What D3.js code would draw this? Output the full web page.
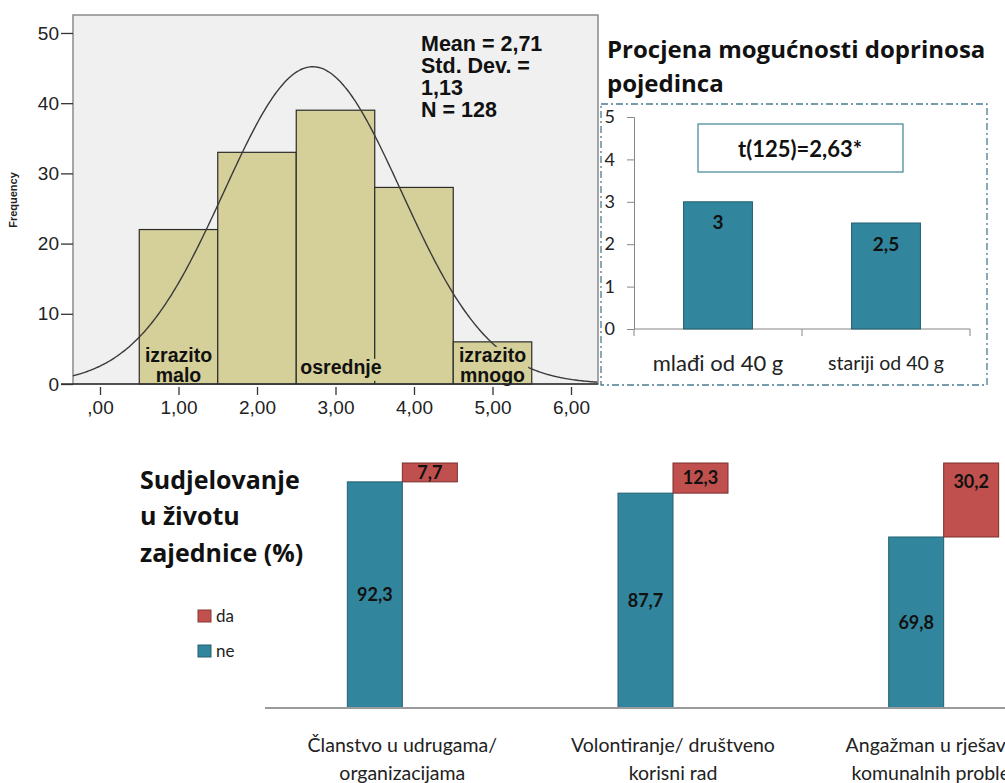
<!DOCTYPE html>
<html>
<head>
<meta charset="utf-8">
<script src="https://cdn.jsdelivr.net/npm/d3@7"></script>
<style>
  body { margin: 0; background: #fff; }
  svg { display: block; }
</style>
</head>
<body>
<svg id="chart"></svg>
<script>
// ---- histogram data (SPSS output) ----
const histBins = [1, 2, 3, 4, 5];
const histFreq = [22, 33, 39, 28, 6];
const histMean = 2.71, histSd = 1.13, histN = 128;
const freqTicks = [0, 10, 20, 30, 40, 50];
const scoreTicks = [0, 1, 2, 3, 4, 5, 6];
const statLines = ["Mean = 2,71", "Std. Dev. =", "1,13", "N = 128"];
const binNotes = [["izrazito", "malo"], ["osrednje"], ["izrazito", "mnogo"]];
const binNoteX = [1, 3.07, 5];

// ---- age group comparison ----
const ageGroups = ["mlađi od 40 g", "stariji od 40  g"];
const ageMeans = [3, 2.5];
const ageTicks = [0, 1, 2, 3, 4, 5];
const tTest = "t(125)=2,63*";

// ---- community participation (%) ----
const activities = [
    ["Članstvo u udrugama/", "organizacijama"],
    ["Volontiranje/ društveno", "korisni rad"],
    ["Angažman u rješavanju", "komunalnih problema"]
];
const ne = [92.3, 87.7, 69.8];
const da = [7.7, 12.3, 30.2];

const W = 1005, H = 783;
const teal = "#31859c", red = "#c0504d";
const sans = "'Liberation Sans', Arial, sans-serif";
const cal = "Lato, 'Open Sans', sans-serif";
const heavy = "'Open Sans', Lato, sans-serif";

const comma = d3.formatLocale({decimal: ",", thousands: ".", grouping: [3], currency: ["", ""]});
const f2 = comma.format(".2f");
const f1 = comma.format("~r");

const svg = d3.select("#chart").attr("width", W).attr("height", H);
svg.append("rect").attr("width", W).attr("height", H).attr("fill", "#fff");

// ================= histogram =================
const hx = d3.scaleLinear().domain([-0.344, 6.344]).range([73, 598]);
const hy = d3.scaleLinear().domain([0, 52.56]).range([384, 15]);

const hist = svg.append("g");
hist.append("rect")
    .attr("x", hx.range()[0]).attr("y", hy.range()[1])
    .attr("width", hx.range()[1] - hx.range()[0])
    .attr("height", hy.range()[0] - hy.range()[1])
    .attr("fill", "#f0f0f0").attr("stroke", "#8a8a8a").attr("stroke-width", 1.5);

hist.selectAll(".bin")
    .data(histBins)
    .join("rect")
    .attr("x", d => hx(d - 0.5))
    .attr("y", (d, i) => hy(histFreq[i]))
    .attr("width", d => hx(d + 0.5) - hx(d - 0.5))
    .attr("height", (d, i) => hy(0) - hy(histFreq[i]))
    .attr("fill", "#d5cf99")
    .attr("stroke", "#2b2b2b")
    .attr("stroke-width", 1.2);

// normal curve from mean / sd / N
const pdf = x => histN * Math.exp(-0.5 * ((x - histMean) / histSd) ** 2) / (histSd * Math.sqrt(2 * Math.PI));
const curveX = d3.range(hx.domain()[0], hx.domain()[1] + 0.001, 0.02);
hist.append("path")
    .datum(curveX)
    .attr("d", d3.line().x(d => hx(d)).y(d => hy(pdf(d))).curve(d3.curveBasis))
    .attr("fill", "none").attr("stroke", "#3a3a3a").attr("stroke-width", 1.4);

// labels with khaki background
binNotes.forEach((lines, i) => {
    const g = hist.append("g");
    const cx = hx(binNoteX[i]);
    const y0 = lines.length === 2 ? 355 : 367;
    const t = g.append("text")
        .attr("text-anchor", "middle")
        .style("font-family", sans).style("font-weight", "bold")
        .style("font-size", "19.5px").attr("fill", "#111");
    lines.forEach((l, j) => t.append("tspan").attr("x", cx).attr("y", y0 + j * 20).attr("dy", "0.35em").text(l));
    const bb = t.node().getBBox();
    g.insert("rect", "text")
        .attr("x", bb.x - 2).attr("y", bb.y + 3)
        .attr("width", bb.width + 4).attr("height", Math.min(bb.height, hy(0) - bb.y - 4))
        .attr("fill", "#d5cf99");
});

// y axis
const hyAxis = hist.append("g")
    .attr("transform", `translate(${hx.range()[0]},0)`)
    .call(d3.axisLeft(hy).tickValues(freqTicks).tickSize(12).tickPadding(2));
hyAxis.select(".domain").remove();
hyAxis.selectAll("line").attr("stroke", "#333").attr("stroke-width", 1.3);
hyAxis.selectAll("text").style("font-family", sans).style("font-size", "19px").attr("fill", "#222");

// x axis
hist.append("line")
    .attr("x1", hx.range()[0] - 12).attr("x2", hx.range()[1])
    .attr("y1", hy(0)).attr("y2", hy(0))
    .attr("stroke", "#333").attr("stroke-width", 1.3);
const hxAxis = hist.append("g")
    .attr("transform", `translate(0,${hy(0) + 3})`)
    .call(d3.axisBottom(hx).tickValues(scoreTicks).tickSize(8).tickPadding(6)
        .tickFormat(d => d === 0 ? ",00" : f2(d)));
hxAxis.select(".domain").remove();
hxAxis.selectAll("line").attr("stroke", "#333").attr("stroke-width", 1.3);
hxAxis.selectAll("text").style("font-family", sans).style("font-size", "19px").attr("fill", "#222");

hist.append("text")
    .attr("transform", `translate(17,200) rotate(-90)`)
    .attr("text-anchor", "middle")
    .style("font-family", sans).style("font-weight", "bold").style("font-size", "11px")
    .attr("fill", "#222")
    .text("Frequency");

hist.append("g").selectAll("text")
    .data(statLines)
    .join("text")
    .attr("x", 421).attr("y", (d, i) => 43 + i * 22).attr("dy", "0.35em")
    .style("font-family", sans).style("font-weight", "bold").style("font-size", "21.5px")
    .attr("fill", "#111")
    .text(d => d);

// ================= age group chart =================
const age = svg.append("g");
age.append("text")
    .style("font-family", heavy).style("font-weight", "bold").style("font-size", "24px")
    .attr("fill", "#111")
    .selectAll("tspan")
    .data(["Procjena mogućnosti doprinosa", "pojedinca"])
    .join("tspan")
    .attr("x", 607).attr("y", (d, i) => 50 + i * 34).attr("dy", "0.35em")
    .text(d => d);

age.append("rect")
    .attr("x", 601).attr("y", 104).attr("width", 386).attr("height", 281)
    .attr("fill", "none").attr("stroke", "#4a7c93").attr("stroke-width", 1.3)
    .attr("stroke-dasharray", "7,3,2,3");

const ay = d3.scaleLinear().domain([0, 5]).range([329, 117]);
const ax = d3.scaleBand().domain(ageGroups).range([634, 970]).paddingInner(0.59).paddingOuter(0.295);

const ayAxis = age.append("g")
    .attr("transform", "translate(634,0)")
    .call(d3.axisLeft(ay).tickValues(ageTicks).tickFormat(d3.format("d")).tickSize(7).tickPadding(12));
ayAxis.selectAll("line, .domain").attr("stroke", "#868686");
ayAxis.selectAll("text").style("font-family", cal).style("font-size", "18px").attr("fill", "#222");

age.append("line")
    .attr("x1", ax.range()[0]).attr("x2", ax.range()[1])
    .attr("y1", ay(0)).attr("y2", ay(0)).attr("stroke", "#868686");
age.selectAll(".tk")
    .data([ax.range()[0], (ax.range()[0] + ax.range()[1]) / 2, ax.range()[1]])
    .join("line")
    .attr("x1", d => d).attr("x2", d => d)
    .attr("y1", ay(0)).attr("y2", ay(0) + 7).attr("stroke", "#868686");

age.selectAll(".bar")
    .data(ageGroups)
    .join("rect")
    .attr("x", d => ax(d))
    .attr("y", (d, i) => ay(ageMeans[i]))
    .attr("width", ax.bandwidth())
    .attr("height", (d, i) => ay(0) - ay(ageMeans[i]))
    .attr("fill", teal).attr("stroke", "#24616f");

age.selectAll(".val")
    .data(ageGroups)
    .join("text")
    .attr("x", d => ax(d) + ax.bandwidth() / 2)
    .attr("y", (d, i) => ay(ageMeans[i]) + 21).attr("dy", "0.35em")
    .attr("text-anchor", "middle")
    .style("font-family", cal).style("font-weight", "bold").style("font-size", "19px")
    .attr("fill", "#111")
    .text((d, i) => f1(ageMeans[i]));

age.selectAll(".cat")
    .data(ageGroups)
    .join("text")
    .attr("x", d => ax(d) + ax.bandwidth() / 2)
    .attr("y", 363).attr("dy", "0.35em")
    .attr("text-anchor", "middle")
    .style("font-family", cal).style("font-size", (d, i) => i === 0 ? "22px" : "19.5px")
    .attr("fill", "#222")
    .text(d => d);

age.append("rect")
    .attr("x", 698).attr("y", 124).attr("width", 205).attr("height", 48)
    .attr("fill", "#fff").attr("stroke", "#4e8c9c").attr("stroke-width", 1.3);
age.append("text")
    .attr("x", 800).attr("y", 149).attr("dy", "0.35em")
    .attr("text-anchor", "middle")
    .style("font-family", cal).style("font-weight", "bold").style("font-size", "22px")
    .attr("fill", "#111")
    .text(tTest);

// ================= participation chart =================
const part = svg.append("g");
part.append("text")
    .style("font-family", heavy).style("font-weight", "bold").style("font-size", "25px")
    .attr("fill", "#111")
    .selectAll("tspan")
    .data(["Sudjelovanje", "u životu", "zajednice (%)"])
    .join("tspan")
    .attr("x", 140).attr("y", (d, i) => 480 + i * 36.5).attr("dy", "0.35em")
    .text(d => d);

const legend = part.append("g");
[["da", red, "#8c3836"], ["ne", teal, "#24616f"]].forEach(([name, c, s], i) => {
    legend.append("rect")
        .attr("x", 198).attr("y", 610 + i * 35).attr("width", 13).attr("height", 12)
        .attr("fill", c).attr("stroke", s);
    legend.append("text")
        .attr("x", 216).attr("y", 616 + i * 35).attr("dy", "0.35em")
        .style("font-family", cal).style("font-size", "17px").attr("fill", "#222")
        .text(name);
});

const py = d3.scaleLinear().domain([0, 100]).range([708, 463]);
const px = d3.scaleBand().domain(activities.map(d => d[0])).range([267, 1079]);
const barW = 55;
const mid = i => px(activities[i][0]) + px.bandwidth() / 2;

part.selectAll(".ne")
    .data(ne)
    .join("rect")
    .attr("x", (d, i) => mid(i) - barW)
    .attr("y", d => py(d))
    .attr("width", barW)
    .attr("height", d => py(0) - py(d))
    .attr("fill", teal).attr("stroke", "#24616f");

part.selectAll(".da")
    .data(da)
    .join("rect")
    .attr("x", (d, i) => mid(i))
    .attr("y", (d, i) => py(ne[i] + d))
    .attr("width", barW)
    .attr("height", (d, i) => py(ne[i]) - py(ne[i] + d))
    .attr("fill", red).attr("stroke", "#7a302e");

part.append("line")
    .attr("x1", 265).attr("x2", W).attr("y1", py(0)).attr("y2", py(0))
    .attr("stroke", "#9a9a9a").attr("stroke-width", 2);

const valStyle = sel => sel
    .attr("text-anchor", "middle").attr("dy", "0.35em")
    .style("font-family", cal).style("font-weight", "bold").style("font-size", "18px")
    .attr("fill", "#111");

part.selectAll(".neVal")
    .data(ne)
    .join("text")
    .attr("x", (d, i) => mid(i) - barW / 2)
    .attr("y", d => (py(0) + py(d)) / 2)
    .call(valStyle)
    .text(d => f1(d));

part.selectAll(".daVal")
    .data(da)
    .join("text")
    .attr("x", (d, i) => mid(i) + barW / 2)
    .attr("y", (d, i) => Math.min(py(ne[i] + d) + 19, (py(ne[i]) + py(ne[i] + d)) / 2))
    .call(valStyle)
    .text(d => f1(d));

// category labels (the last one runs past the right edge, as in the original)
activities.forEach((lines, i) => {
    part.append("text")
        .attr("text-anchor", "middle")
        .style("font-family", cal).style("font-size", "19.5px").attr("fill", "#222")
        .selectAll("tspan")
        .data(lines)
        .join("tspan")
        .attr("x", mid(i)).attr("y", (d, j) => 745 + j * 28).attr("dy", "0.35em")
        .text(d => d);
});
</script>
</body>
</html>
